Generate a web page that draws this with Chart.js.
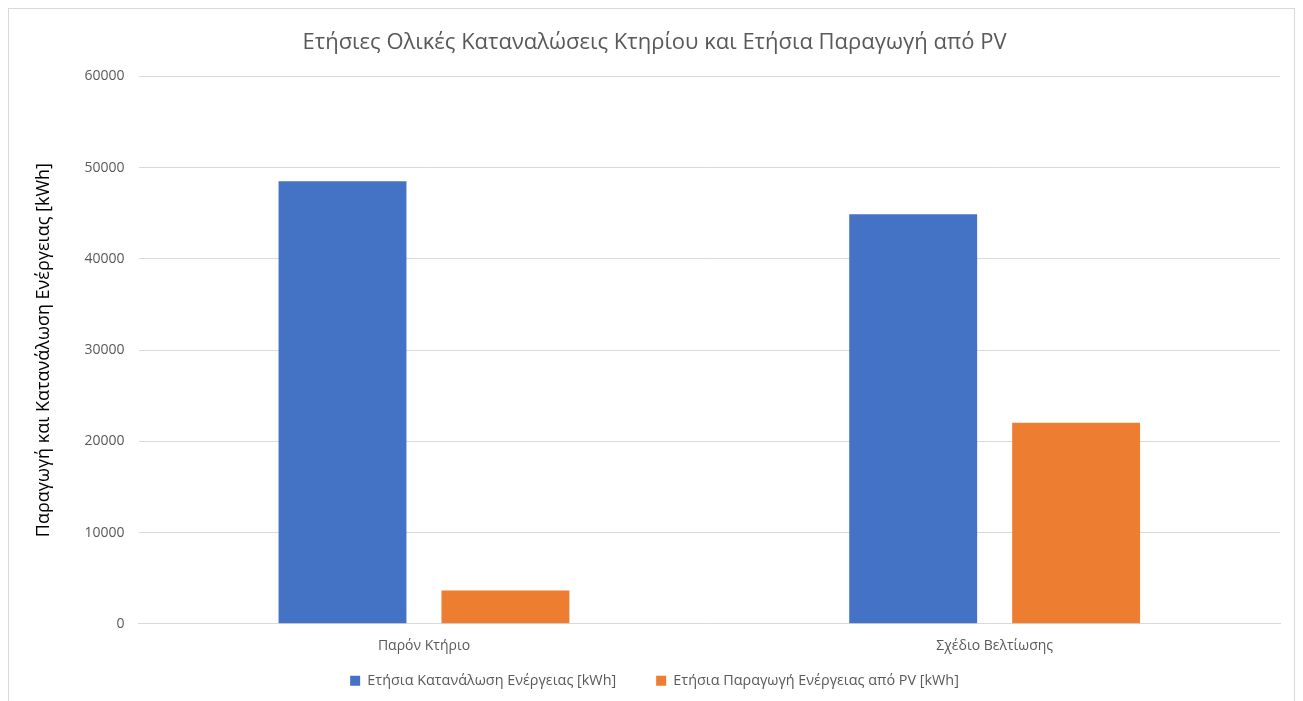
<!DOCTYPE html>
<html>
<head>
<meta charset="utf-8">
<script src="https://cdn.jsdelivr.net/npm/chart.js"></script>
<style>
  html, body { margin: 0; padding: 0; background: #fff; }
  #box {
    position: absolute; left: 8px; top: 8px;
    width: 1287px; height: 700px;
    border: 1px solid #d9d9d9; box-sizing: border-box;
  }
</style>
</head>
<body>
<div id="box"><canvas id="chart"></canvas></div>
<script>
const categories = ['Παρόν Κτήριο', 'Σχέδιο Βελτίωσης'];
const consumption = [48500, 44900];
const pvProduction = [3650, 22050];
const yTicks = [0, 10000, 20000, 30000, 40000, 50000, 60000];

const FONT = '"Open Sans", "Noto Sans", sans-serif';
const GREY = '#595959';

// legend items sit far apart, but the legend itself should stay short:
// shrink the box the wide item spacing adds and start drawing a little higher
const LEGEND_TRIM = 18;
const LEGEND_SHIFT = 27;
const compactLegend = {
  id: 'compactLegend',
  afterInit(chart) {
    const legend = chart.legend;
    const fit = legend.fit;
    legend.fit = function () {
      fit.call(this);
      this.height -= LEGEND_TRIM;
    };
  },
  afterLayout(chart) {
    chart.legend.top -= LEGEND_SHIFT;
  }
};

new Chart(document.getElementById('chart'), {
  type: 'bar',
  data: {
    labels: categories,
    datasets: [
      {
        label: 'Ετήσια Κατανάλωση Ενέργειας [kWh]',
        data: consumption,
        backgroundColor: '#4472c4',
        categoryPercentage: 0.571,
        barPercentage: 0.785
      },
      {
        label: 'Ετήσια Παραγωγή Ενέργειας από PV [kWh]',
        data: pvProduction,
        backgroundColor: '#ed7d31',
        categoryPercentage: 0.571,
        barPercentage: 0.785
      }
    ]
  },
  plugins: [compactLegend],
  options: {
    responsive: true,
    maintainAspectRatio: false,
    animation: false,
    layout: { padding: { left: 20, right: 14, top: 8, bottom: 0 } },
    plugins: {
      title: {
        display: true,
        text: 'Ετήσιες Ολικές Καταναλώσεις Κτηρίου και Ετήσια Παραγωγή από PV',
        color: GREY,
        font: { family: FONT, size: 22, weight: 'normal' },
        padding: { top: 13, bottom: 20 }
      },
      legend: {
        position: 'bottom',
        labels: {
          color: GREY,
          font: { family: FONT, size: 14.4 },
          boxWidth: 10,
          boxHeight: 10,
          padding: 40
        }
      },
      tooltip: { enabled: false }
    },
    scales: {
      x: {
        grid: { display: false },
        border: { color: '#d9d9d9' },
        ticks: { color: GREY, font: { family: FONT, size: 14 }, padding: 6 }
      },
      y: {
        min: 0,
        max: 60000,
        afterBuildTicks: axis => { axis.ticks = yTicks.map(v => ({ value: v })); },
        grid: { color: '#d9d9d9', drawTicks: false },
        border: { display: false },
        ticks: {
          color: GREY,
          font: { family: FONT, size: 14 },
          padding: 14,
          callback: v => String(v)
        },
        title: {
          display: true,
          text: 'Παραγωγή και Κατανάλωση Ενέργειας [kWh]',
          color: '#000',
          font: { family: FONT, size: 18 },
          padding: { bottom: 16 }
        }
      }
    }
  }
});
</script>
</body>
</html>
